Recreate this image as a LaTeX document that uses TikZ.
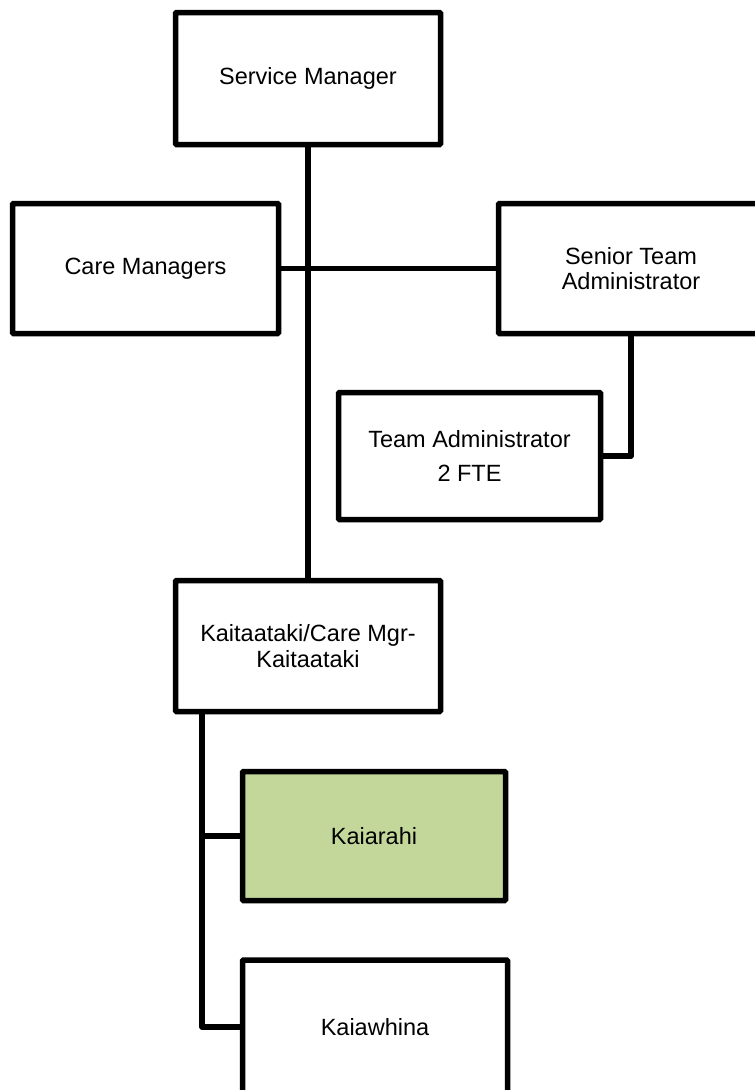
\documentclass[tikz,border=0pt]{standalone}
\usepackage{fontspec}
\setmainfont{Liberation Sans}
\definecolor{kgreen}{HTML}{C4D79B}
\begin{document}
\begin{tikzpicture}[x=1pt,y=-1pt,
  box/.style={draw=black,line width=5.5pt,fill=white,rounded corners=1pt,
    inner sep=0pt,align=center,font=\fontsize{23.5}{25.5}\selectfont},
  conn/.style={draw=black,line width=5.5pt}]
\useasboundingbox (0,0) rectangle (755,1090);
\clip (0,0) rectangle (755,1090);
\node[box,minimum width=265pt,minimum height=132pt] (sm) at (308,78.5) {Service Manager};
\node[box,minimum width=266pt,minimum height=130pt] (cm) at (145.5,268.5) {Care Managers};
\node[box,minimum width=265pt,minimum height=130pt] (sta) at (631,268.5) {Senior Team\\Administrator};
\node[box,minimum width=262pt,minimum height=127pt] (ta) at (469.5,456) {Team Administrator\\[9pt]2 FTE};
\node[box,minimum width=265pt,minimum height=131pt] (kt) at (308,646) {Kaitaataki/Care Mgr-\\Kaitaataki};
\node[box,fill=kgreen,minimum width=263pt,minimum height=129pt] (kr) at (374,836) {Kaiarahi};
\node[box,minimum width=265pt,minimum height=134pt] (kw) at (375,1027) {Kaiawhina};
\coordinate (kx) at (202,714);
\path[conn] (sm.south) -- (kt.north);
\path[conn] (cm.east) -- (sta.west);
\path[conn,line join=round] (sta.south) |- (ta.east);
\path[conn,line join=round] (kt.south -| kx) |- (kw.west);
\path[conn] (kr.west -| kx) -- (kr.west);
\end{tikzpicture}
\end{document}
